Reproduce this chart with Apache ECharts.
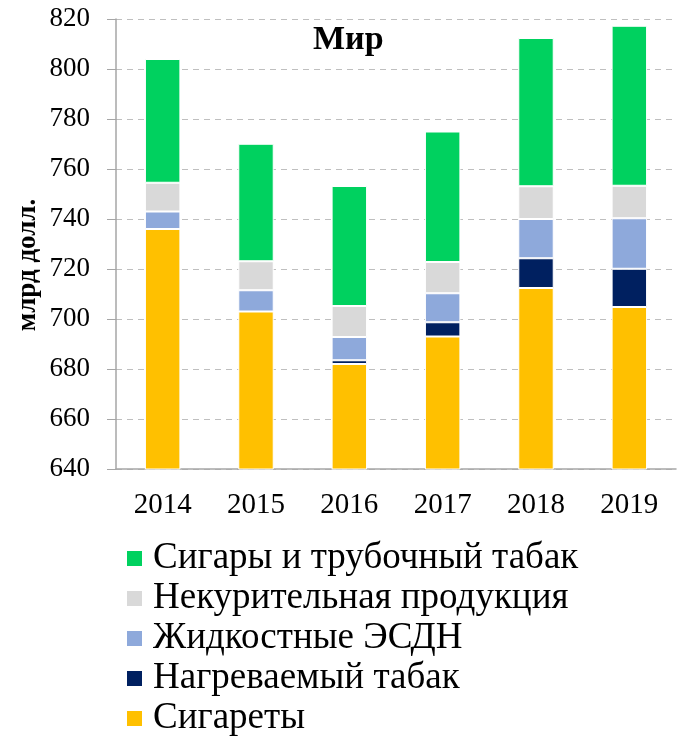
<!DOCTYPE html>
<html>
<head>
<meta charset="utf-8">
<script src="https://cdn.jsdelivr.net/npm/echarts@6/dist/echarts.min.js"></script>
<style>
html,body{margin:0;padding:0;background:#fff;}
#chart{width:677px;height:737px;}
</style>
</head>
<body>
<div id="chart"></div>
<script>
// годы
var years = ['2014', '2015', '2016', '2017', '2018', '2019'];
// значения по сегментам, млрд долл.
var cigarettes = [736, 703, 682, 693, 712.4, 704.8];
var heated = [0, 0, 1.5, 5.7, 11.9, 15.3];
var liquid = [7, 8.5, 9.3, 11.6, 15.7, 20.2];
var smokeless = [11.5, 11.6, 12.4, 12.5, 13.1, 13];
var cigars = [49.5, 47, 48, 52.2, 59.3, 64];

var names = ['Сигареты', 'Нагреваемый табак', 'Жидкостные ЭСДН', 'Некурительная продукция', 'Сигары и трубочный табак'];
var colors = ['#FFC000', '#002060', '#8EA9DB', '#D9D9D9', '#00D15F'];
var font = '"Liberation Serif", "Times New Roman", serif';

function bar(i, data) {
    return {
        name: names[i],
        type: 'bar',
        stack: 'total',
        barWidth: '38%',
        data: data,
        itemStyle: {color: colors[i], borderColor: '#fff', borderWidth: 1},
        emphasis: {disabled: true}
    };
}

var option = {
    animation: false,
    color: colors,
    grid: {left: 116, right: 1, top: 19, bottom: 268},
    graphic: [
        {
            type: 'text',
            left: 313,
            top: 23,
            style: {text: 'Мир', font: 'bold 34px ' + font, fill: '#000'}
        },
        {
            type: 'text',
            x: 28,
            y: 265,
            rotation: Math.PI / 2,
            style: {
                text: 'млрд долл.',
                font: 'bold 27px ' + font,
                fill: '#000',
                align: 'center',
                verticalAlign: 'middle'
            }
        }
    ],
    legend: {
        orient: 'vertical',
        left: 120,
        top: 535,
        height: 240,
        itemWidth: 17,
        itemHeight: 17,
        itemGap: 3,
        icon: 'rect',
        data: [names[4], names[3], names[2], names[1], names[0]],
        textStyle: {fontFamily: font, fontSize: 37, lineHeight: 37, color: '#000', padding: [0, 0, 0, 5]}
    },
    xAxis: {
        type: 'category',
        data: years,
        axisLine: {lineStyle: {color: '#A6A6A6', width: 1.5}},
        axisTick: {length: 8, lineStyle: {color: '#A6A6A6'}},
        axisLabel: {fontFamily: font, fontSize: 29, color: '#000', margin: 22}
    },
    yAxis: {
        type: 'value',
        min: 640,
        max: 820,
        interval: 20,
        axisLine: {show: true, lineStyle: {color: '#A6A6A6', width: 1.5}},
        axisTick: {show: true, length: 9, lineStyle: {color: '#A6A6A6'}},
        axisLabel: {fontFamily: font, fontSize: 27, color: '#000', margin: 26},
        splitLine: {lineStyle: {color: '#BFBFBF', type: [6, 5]}}
    },
    series: [
        bar(0, cigarettes),
        bar(1, heated),
        bar(2, liquid),
        bar(3, smokeless),
        bar(4, cigars)
    ]
};

var myChart = echarts.init(document.getElementById('chart'));
myChart.setOption(option);
</script>
</body>
</html>
